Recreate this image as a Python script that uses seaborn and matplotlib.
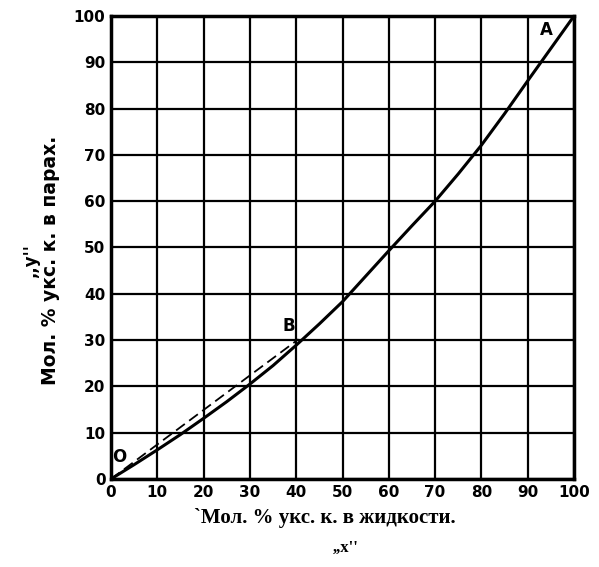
import matplotlib
matplotlib.use("Agg")
import matplotlib.pyplot as plt
import seaborn as sns
import pandas as pd

# равновесная кривая (читано с рисунка)
x_liq = [0, 5, 10, 15, 20, 25, 30, 35, 40, 45, 50, 55, 60, 65, 70, 75, 80, 85, 90, 95, 100]
y_vap = [0, 3.1, 6.3, 9.6, 13.1, 16.7, 20.5, 24.5, 28.9, 33.5, 38.3, 43.8, 49.3,
         54.7, 60.0, 65.9, 72.1, 78.9, 86.0, 93.0, 100]
# пунктирная прямая O-B
x_dash = [0, 40.5]
y_dash = [0, 30.2]
ticks = list(range(0, 101, 10))
point_labels = ["O", "B", "A"]
point_x = [1.8, 38.3, 94.0]
point_y = [4.8, 33, 97]

sns.set_style("white")
plt.rcParams['font.family'] = ['Liberation Sans Narrow', 'DejaVu Sans']
plt.rcParams['text.color'] = 'black'
plt.rcParams['xtick.color'] = 'black'
plt.rcParams['ytick.color'] = 'black'

fig = plt.figure(figsize=(5.99, 5.67), dpi=100)
ax = fig.add_axes([0.1853, 0.1552, 0.773, 0.8166])

curve = pd.DataFrame({"x": x_liq, "y": y_vap})
dash = pd.DataFrame({"x": x_dash, "y": y_dash})
sns.lineplot(data=curve, x="x", y="y", ax=ax, color="black", lw=2.2)
sns.lineplot(data=dash, x="x", y="y", ax=ax, color="black", lw=1.3,
             linestyle=(0, (6, 3)))

ax.set_xlim(0, 100)
ax.set_ylim(0, 100)
ax.set_xticks(ticks)
ax.set_yticks(ticks)
ax.set_xticklabels([str(t) for t in ticks], fontsize=11, fontweight="bold")
ax.set_yticklabels([str(t) for t in ticks], fontsize=11, fontweight="bold")
ax.tick_params(length=0, pad=4)
ax.grid(True, color="black", lw=1.6)
for s in ax.spines.values():
    s.set_color("black")
    s.set_linewidth(2.5)

for lab, px, py in zip(point_labels, point_x, point_y):
    ax.text(px, py, lab, fontsize=12, fontweight="bold", ha="center", va="center",
            family=["DejaVu Sans"])

ax.set_xlabel("")
ax.set_ylabel("")
fig.text(0.543, 0.087, "`Мол. % укс. к. в жидкости.", ha="center", va="center",
         fontsize=15, fontweight="bold", family=["Liberation Serif"])
fig.text(0.577, 0.033, ",,x''", ha="center", va="center",
         fontsize=12, fontweight="bold", family=["Liberation Serif"])
fig.text(0.084, 0.54, "Мол. % укс. к. в парах.", rotation=90, ha="center",
         va="center", fontsize=13.5, fontweight="bold", family=["DejaVu Sans"])
fig.text(0.052, 0.54, ",,y''", rotation=90, ha="center",
         va="center", fontsize=12, fontweight="bold", family=["DejaVu Sans"])

fig.savefig("out.png", dpi=100)
